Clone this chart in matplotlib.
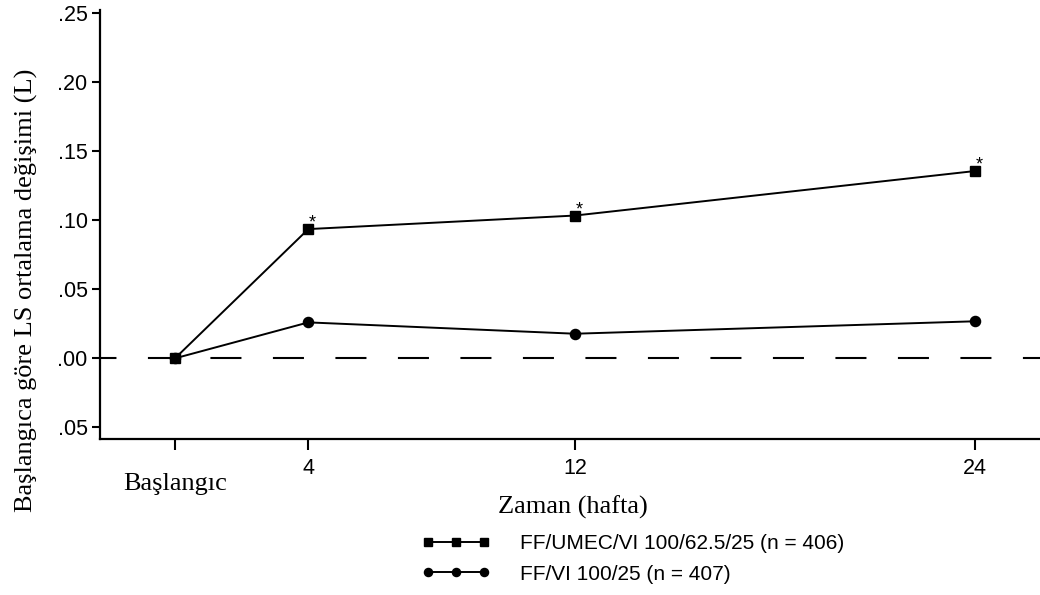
import matplotlib
matplotlib.use("Agg")
import matplotlib.pyplot as plt

# weeks (0 = baseline)
weeks = [0, 4, 12, 24]
xtick_labels = ["", "4", "12", "24"]
triple = [0.0, 0.0935, 0.1033, 0.1355]   # FF/UMEC/VI
dual = [0.0, 0.026, 0.0178, 0.0268]      # FF/VI
star_weeks = [4, 12, 24]
yticks = [-0.05, 0.0, 0.05, 0.10, 0.15, 0.20, 0.25]
ytick_labels = [".05", ".00", ".05", ".10", ".15", ".20", ".25"]
labels = ["FF/UMEC/VI 100/62.5/25 (n = 406)", "FF/VI 100/25 (n = 407)"]

SANS = "Liberation Sans"
SERIF = "Liberation Serif"
W, H = 1040, 595

fig = plt.figure(figsize=(10.4, 5.95), dpi=100)
ax = fig.add_axes([100 / W, 1 - 438.5 / H, 940 / W, 428.5 / H])

ax.axhline(0, color="black", lw=1.5, linestyle=(7, (14.9, 15.1)), zorder=1)

l1, = ax.plot(weeks, triple, "-s", color="black", lw=1.4, ms=6.5, zorder=3)
l2, = ax.plot(weeks, dual, "-o", color="black", lw=1.4, ms=7.3, zorder=3)

for w in star_weeks:
    v = triple[weeks.index(w)]
    ax.annotate("*", (w, v), xytext=(3, 1), textcoords="offset points",
                ha="center", va="baseline", fontsize=13, fontfamily=SANS)

ax.set_xlim(-2.25, 25.95)
ax.set_ylim(-0.058, 0.252)

ax.set_xticks(weeks)
ax.set_xticklabels(xtick_labels, fontfamily=SANS, fontsize=15.5)
ax.set_yticks(yticks)
ax.set_yticklabels(ytick_labels, fontfamily=SANS, fontsize=15.5)
ax.tick_params(axis="x", length=8, width=1.5, pad=6)
ax.tick_params(axis="y", length=6, width=1.5, pad=3)

for s in ["top", "right"]:
    ax.spines[s].set_visible(False)
for s in ["left", "bottom"]:
    ax.spines[s].set_linewidth(1.6)

fig.text(175 / W, 1 - 490 / H, "Başlangıc", ha="center", va="baseline",
         fontfamily=SERIF, fontsize=19)
fig.text(573 / W, 1 - 513.5 / H, "Zaman (hafta)", ha="center", va="baseline",
         fontfamily=SERIF, fontsize=19)
fig.text(26 / W, 1 - 290 / H, "Başlangıca göre LS ortalama değişimi (L)",
         ha="center", va="center", rotation=90, fontfamily=SERIF, fontsize=19)

leg = fig.legend([l1, l2], labels, loc="upper left", bbox_to_anchor=(422 / W, 1 - 534 / H),
                 frameon=False, prop={"family": SANS, "size": 15}, numpoints=3,
                 borderpad=0, borderaxespad=0,
                 handlelength=3.27, handletextpad=1.44, labelspacing=0.56, markerscale=0.8)

fig.savefig("out.png", dpi=100)
